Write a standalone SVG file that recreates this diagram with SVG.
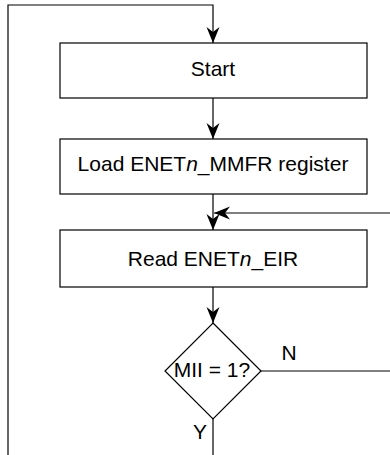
<svg xmlns="http://www.w3.org/2000/svg" width="390" height="455" viewBox="0 0 390 455">
<style>
.box{fill:#fff;stroke:#000;stroke-width:1.2}
.ln{fill:none;stroke:#000;stroke-width:1.2}
.t{font-family:"Liberation Sans",Arial,sans-serif;font-size:21px;fill:#000;text-anchor:middle}
</style>
<defs>
<marker id="ah" markerUnits="userSpaceOnUse" markerWidth="17" markerHeight="13" refX="16" refY="6.5" orient="auto" overflow="visible">
<path d="M16,6.5 L0,0 L5,6.5 L0,13 Z" fill="#000"/>
</marker>
</defs>
<rect width="390" height="455" fill="#fff"/>
<g id="connectors">
<path class="ln" d="M8,455 V5 H213 V43" marker-end="url(#ah)"/>
<path class="ln" d="M213,98 V139" marker-end="url(#ah)"/>
<path class="ln" d="M213,194 V230" marker-end="url(#ah)"/>
<path class="ln" d="M390,213 H214" marker-end="url(#ah)"/>
<path class="ln" d="M213,287 V323" marker-end="url(#ah)"/>
<path class="ln" d="M261,371 H390"/>
<path class="ln" d="M213,419 V455"/>
<text class="t" x="289" y="360">N</text>
<text class="t" x="200" y="439">Y</text>
</g>
<g id="start">
<rect class="box" x="60" y="43" width="307" height="55"/>
<text class="t" x="213" y="76">Start</text>
</g>
<g id="load">
<rect class="box" x="60" y="139" width="307" height="55"/>
<text class="t" x="213" y="171">Load ENET<tspan font-style="italic">n</tspan>_MMFR register</text>
</g>
<g id="read">
<rect class="box" x="60" y="230" width="307" height="57"/>
<text class="t" x="213" y="266">Read ENET<tspan font-style="italic">n</tspan>_EIR</text>
</g>
<g id="decision">
<polygon class="box" points="213,323 261,371 213,419 165,371"/>
<text class="t" x="212" y="377">MII = 1?</text>
</g>
</svg>
